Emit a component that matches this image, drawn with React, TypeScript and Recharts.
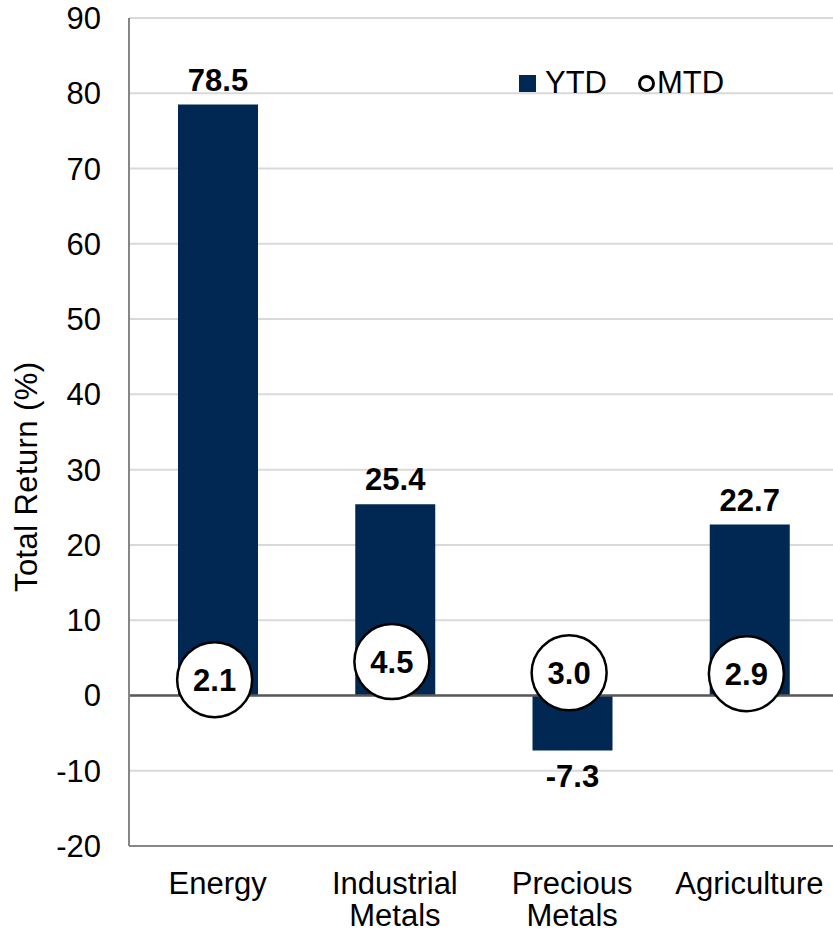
import React from "react";
import {
  ComposedChart,
  Bar,
  Scatter,
  XAxis,
  YAxis,
  CartesianGrid,
  ReferenceLine,
  LabelList,
  Legend,
} from "recharts";

const categories = ["Energy", "Industrial Metals", "Precious Metals", "Agriculture"];
const ytdValues = [78.5, 25.4, -7.3, 22.7];
const mtdValues = [2.1, 4.5, 3.0, 2.9];
const yTicks = [-20, -10, 0, 10, 20, 30, 40, 50, 60, 70, 80, 90];

const data = categories.map((name, i) => ({ name, ytd: ytdValues[i], mtd: mtdValues[i] }));

const FONT = "'Liberation Sans', Arial, sans-serif";
const NAVY = "#012853";

const XTick = (props: any) => {
  const { x, y, payload } = props;
  const lines = String(payload.value).split(" ");
  return (
    <text x={x} y={y} textAnchor="middle" fontFamily={FONT} fontSize={31} fill="#000">
      {lines.map((l: string, i: number) => (
        <tspan key={i} x={x} dy={i === 0 ? 48 : 32}>
          {l}
        </tspan>
      ))}
    </text>
  );
};

const BarLabel = (props: any) => {
  const vb = props.viewBox && props.viewBox.width != null ? props.viewBox : props;
  const { x, y, width, height } = vb;
  const value = Number(props.value);
  const top = Math.min(y, y + height);
  const bottom = Math.max(y, y + height);
  const cx = x + width / 2;
  const ty = value >= 0 ? top - 14 : bottom + 37;
  return (
    <text x={cx} y={ty} textAnchor="middle" fontFamily={FONT} fontSize={31} fontWeight="bold" fill="#000">
      {value.toFixed(1)}
    </text>
  );
};

const MtdShape = (props: any) => {
  const { cx, cy, payload } = props;
  const px = cx - 3;
  return (
    <g>
      <circle cx={px} cy={cy} r={37.5} fill="#fff" stroke="#000" strokeWidth={2.5} />
      <text x={px} y={cy + 11} textAnchor="middle" fontFamily={FONT} fontSize={31} fontWeight="bold" fill="#000">
        {Number(payload.mtd).toFixed(1)}
      </text>
    </g>
  );
};

const YTitle = () => (
  <text
    transform="translate(37,592) rotate(-90)"
    textAnchor="start"
    fontFamily={FONT}
    fontSize={31}
    letterSpacing={0.4}
    fill="#000"
  >
    Total Return (%)
  </text>
);

const LegendContent = () => (
  <div
    style={{
      display: "flex",
      alignItems: "center",
      fontFamily: FONT,
      fontSize: 31,
      lineHeight: "30px",
      color: "#000",
      whiteSpace: "nowrap",
    }}
  >
    <div style={{ width: 17, height: 17, background: NAVY }} />
    <span style={{ marginLeft: 9 }}>YTD</span>
    <div
      style={{
        marginLeft: 31,
        width: 17,
        height: 17,
        boxSizing: "border-box",
        border: "3px solid #000",
        borderRadius: "50%",
        background: "#fff",
      }}
    />
    <span style={{ marginLeft: 2 }}>MTD</span>
  </div>
);

export default function App() {
  return (
    <div style={{ position: "absolute", left: 0, top: 0, width: 833, height: 933, overflow: "hidden", background: "#fff" }}>
      <ComposedChart
        width={840}
        height={933}
        data={data}
        margin={{ top: 18, right: 2, bottom: 0, left: 0 }}
      >
        <CartesianGrid vertical={false} stroke="#d9d9d9" strokeWidth={2} />
        <XAxis
          dataKey="name"
          height={87}
          axisLine={{ stroke: "#868686", strokeWidth: 2 }}
          tickLine={false}
          tickSize={0}
          tickMargin={0}
          tick={<XTick />}
          interval={0}
        />
        <YAxis
          width={129}
          domain={[-20, 90]}
          ticks={yTicks}
          interval={0}
          axisLine={{ stroke: "#868686", strokeWidth: 2 }}
          tickLine={false}
          tickSize={0}
          tickMargin={28}
          tick={{ fontFamily: FONT, fontSize: 31, fill: "#000" }}
          label={<YTitle />}
        />
        <Legend
          layout="horizontal"
          verticalAlign="middle"
          align="center"
          content={<LegendContent />}
          wrapperStyle={{ position: "absolute", left: 519, top: 68, width: 240, height: 30 }}
        />
        <Bar dataKey="ytd" name="YTD" fill={NAVY} barSize={80} isAnimationActive={false}>
          <LabelList dataKey="ytd" content={<BarLabel />} />
        </Bar>
        <ReferenceLine y={0} stroke="#595959" strokeWidth={2.5} />
        <Scatter dataKey="mtd" name="MTD" shape={<MtdShape />} isAnimationActive={false} />
      </ComposedChart>
    </div>
  );
}
